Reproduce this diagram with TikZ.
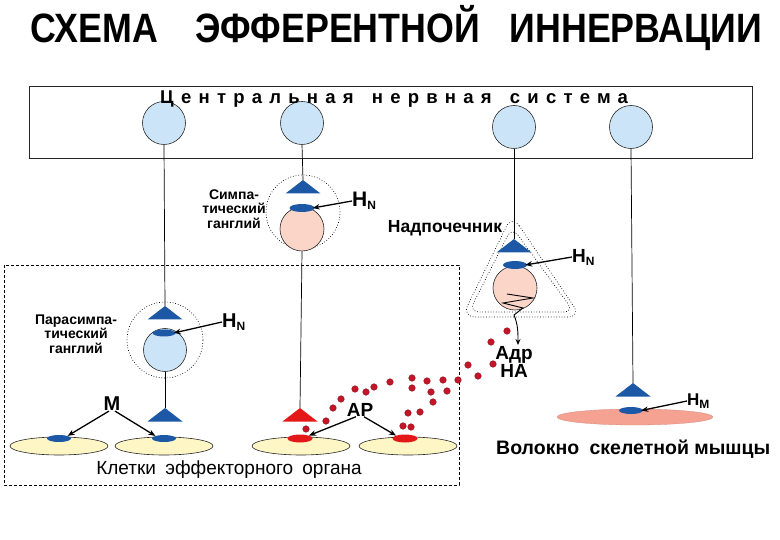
\documentclass[tikz,border=0pt]{standalone}
\usepackage{fontspec}
\setmainfont{Liberation Sans}
\usetikzlibrary{arrows.meta,shapes.geometric}
\definecolor{lblue}{RGB}{204,228,247}
\definecolor{dblue}{RGB}{28,88,165}
\definecolor{pinkc}{RGB}{250,213,200}
\definecolor{yell}{RGB}{255,246,198}
\definecolor{redc}{RGB}{228,24,24}
\definecolor{salm}{RGB}{246,162,146}
\definecolor{dotc}{RGB}{196,22,40}
\newcommand\ntri[3]{\fill[#3] (#1,#2) -- ++(17.5,13.5) -- ++(-35,0) -- cycle;}
\newcommand\sz[2]{\fontsize{#1}{#2}\selectfont}
\newcommand\subl[1]{\raisebox{-3pt}{\sz{12}{12}#1}}
\begin{document}
\begin{tikzpicture}[x=1pt,y=-1pt,
  cns/.style={circle,draw=black!85,line width=0.6pt,fill=lblue,minimum size=43pt,inner sep=0},
  pcirc/.style={circle,draw=black!85,line width=0.6pt,fill=pinkc,minimum size=44pt,inner sep=0},
  bcirc/.style={circle,draw=black!85,line width=0.6pt,fill=lblue,minimum size=43pt,inner sep=0},
  recb/.style={ellipse,fill=dblue,minimum width=25pt,minimum height=8pt,inner sep=0},
  recr/.style={ellipse,fill=redc,minimum width=25pt,minimum height=8pt,inner sep=0},
  cell/.style={ellipse,draw=black!85,line width=0.6pt,fill=yell,minimum width=98pt,minimum height=18pt,inner sep=0},
  lbl/.style={inner sep=0,font=\bfseries\sz{20}{20}},
  small/.style={inner sep=0,align=center,font=\bfseries\sz{14}{14.5}},
  conn/.style={line width=0.7pt},
  arr/.style={-{Stealth[length=7pt,width=5.5pt]},line width=1.3pt},
  dotd/.style={fill=dotc,draw=dotc!70!black,line width=0.4pt}]
\useasboundingbox (0,0) rectangle (780,540);
% title
\node[anchor=base west,inner sep=0,font=\bfseries\sz{41}{41}] (title) at (30,43)
  {\scalebox{0.873}[1]{СХЕМА\hspace{43pt}ЭФФЕРЕНТНОЙ\hspace{34pt}ИННЕРВАЦИИ}};
% CNS box
\draw[line width=0.9pt,draw=black!85] (29,86) rectangle (752,158);
\node[cns] (c1) at (164,123) {};
\node[cns] (c2) at (302,123) {};
\node[cns] (c3) at (514,127) {};
\node[cns] (c4) at (631,127) {};
\node[anchor=base west,inner sep=0,font=\bfseries\sz{18.5}{18}\addfontfeature{LetterSpace=39}] (cnst) at (160,103.5)
  {Центральная\hspace{6pt} нервная\hspace{6pt} система};
% effector box
\draw[dashed,line width=0.7pt,dash pattern=on 3pt off 2pt] (4,265) rectangle (459,485);
% sympathetic ganglion
\draw[dotted,line width=0.7pt] (303,212) circle[radius=37pt];
\ntri{303}{180}{dblue}
\coordinate (t2) at (303,180);
\node[pcirc] (p2) at (302,229) {};
\node[recb] (r2) at (302,208) {};
\node[small] (symlbl) at (234,209) {Симпа-\\тический\\ганглий};
\node[lbl,anchor=west,font=\bfseries\sz{21}{21}] (hn1) at (352,201) {Н\subl{N}};
\draw[arr] (hn1.west) -- ([xshift=-2pt]r2.east);
% parasympathetic ganglion
\draw[dotted,line width=0.7pt] (165,340) circle[radius=38pt];
\ntri{165}{306}{dblue}
\coordinate (t1) at (165,306);
\node[bcirc] (p1) at (165,350) {};
\node[recb,minimum width=23pt,minimum height=7pt] (r1) at (164,333) {};
\node[small] (paralbl) at (76,334) {Парасимпа-\\тический\\ганглий};
\node[lbl,anchor=west] (hn2) at (222,322) {Н\subl{N}};
\draw[arr] (hn2.west) -- ([xshift=-2pt]r1.east);
% adrenal
\node[inner sep=0,font=\bfseries\sz{17.5}{17.5}] (adlbl) at (445,228) {Надпочечник};
\draw[dotted,line width=0.7pt,rounded corners=13pt] (512,215) -- (581,317) -- (462,317) -- cycle;
\draw[dotted,line width=0.7pt,rounded corners=10pt] (512,227) -- (574,312) -- (469,312) -- cycle;
\ntri{514}{239}{dblue}
\coordinate (t3) at (514,239);
\node[pcirc] (p3) at (515,288) {};
\node[recb,minimum width=24pt] (r3) at (515,265) {};
\node[lbl,anchor=west,font=\bfseries\sz{19}{19}] (hn3) at (572,257) {Н\subl{N}};
\draw[arr] (hn3.west) -- ([xshift=-2pt]r3.east);
\coordinate (zz) at (507,294);
\coordinate (adr) at (518,345);
\draw[line width=0.9pt,-{Stealth[length=6pt,width=5pt]}] (zz) -- (533,298) -- (503,303) -- (523,308) -- (514,315)
  .. controls (518,325) and (518,332) .. (adr);
\node[inner sep=0,align=center,font=\bfseries\sz{19}{15}] (adrna) at (514,362) {Адр\\НА};
% connectors from CNS
\draw[conn] (c1.south) -- (t1);
\draw[conn] (c2.south) -- (t2);
\draw[conn] (c3.south) -- (t3);
% effector cells
\node[cell] (e1) at (59,446) {};
\node[cell] (e2) at (164,446) {};
\node[cell] (e3) at (301,446) {};
\node[cell] (e4) at (408,446) {};
\node[recb,minimum width=24pt,minimum height=7pt] (re1) at (59,438.5) {};
\node[recb,minimum width=24pt,minimum height=7pt] (re2) at (164,438.5) {};
\node[recr,minimum width=25pt,minimum height=8pt] (re3) at (300,438.5) {};
\node[recr,minimum width=25pt,minimum height=8pt] (re4) at (405,438.5) {};
\ntri{165}{408}{dblue}
\coordinate (t5) at (165,408);
\ntri{300}{408}{redc}
\coordinate (t6) at (300,408);
\draw[conn] (p1.south) -- (t5);
\draw[conn] (p2.south) -- (t6);
\node[lbl,font=\bfseries\sz{20}{20}] (mlbl) at (112,404) {М};
\draw[arr] ([xshift=-3pt]mlbl.south) -- (re1.north east);
\draw[arr] ([xshift=3pt]mlbl.south) -- (re2.north west);
\node[lbl,font=\bfseries\sz{19}{19}] (arlbl) at (360,410) {АР};
\draw[arr] ([xshift=-4pt]arlbl.south) -- (re3.north east);
\draw[arr] ([xshift=4pt]arlbl.south) -- (re4.north west);
\node[inner sep=0,font=\sz{19}{19}] (klet) at (229,470) {Клетки\hspace{4pt} эффекторного\hspace{4pt} органа};
% dots
\foreach \p in {(306,429),(326,421),(333,408),(341,399),(355,389),(366,392),(374,387),(390,382),
  (412,378),(412,388),(427,381),(431,392),(443,380),(447,391),(458,380),(468,365),(478,376),
  (491,342),(493,364),(507,331),(433,402),(420,412),(408,413),(403,426),(411,427)}
  \filldraw[dotd] \p circle[radius=3.3pt];
% skeletal muscle
\node[ellipse,fill=salm,draw=salm!85!black,line width=0.3pt,minimum width=156pt,minimum height=16pt,inner sep=0] (mus) at (635,417) {};
\ntri{633}{383}{dblue}
\coordinate (t4) at (633,383);
\draw[conn] (c4.south) -- (t4);
\node[recb,minimum width=24pt,minimum height=7pt] (r4) at (631,410.5) {};
\node[lbl,anchor=west,font=\bfseries\sz{17}{17}] (hm) at (687,401) {Н\subl{М}};
\draw[arr] (hm.west) -- ([xshift=-2pt]r4.east);
\node[anchor=west,inner sep=0,font=\bfseries\sz{19.5}{19.5}] (vol) at (496,449) {Волокно\hspace{5pt} скелетной мышцы};
\end{tikzpicture}
\end{document}
